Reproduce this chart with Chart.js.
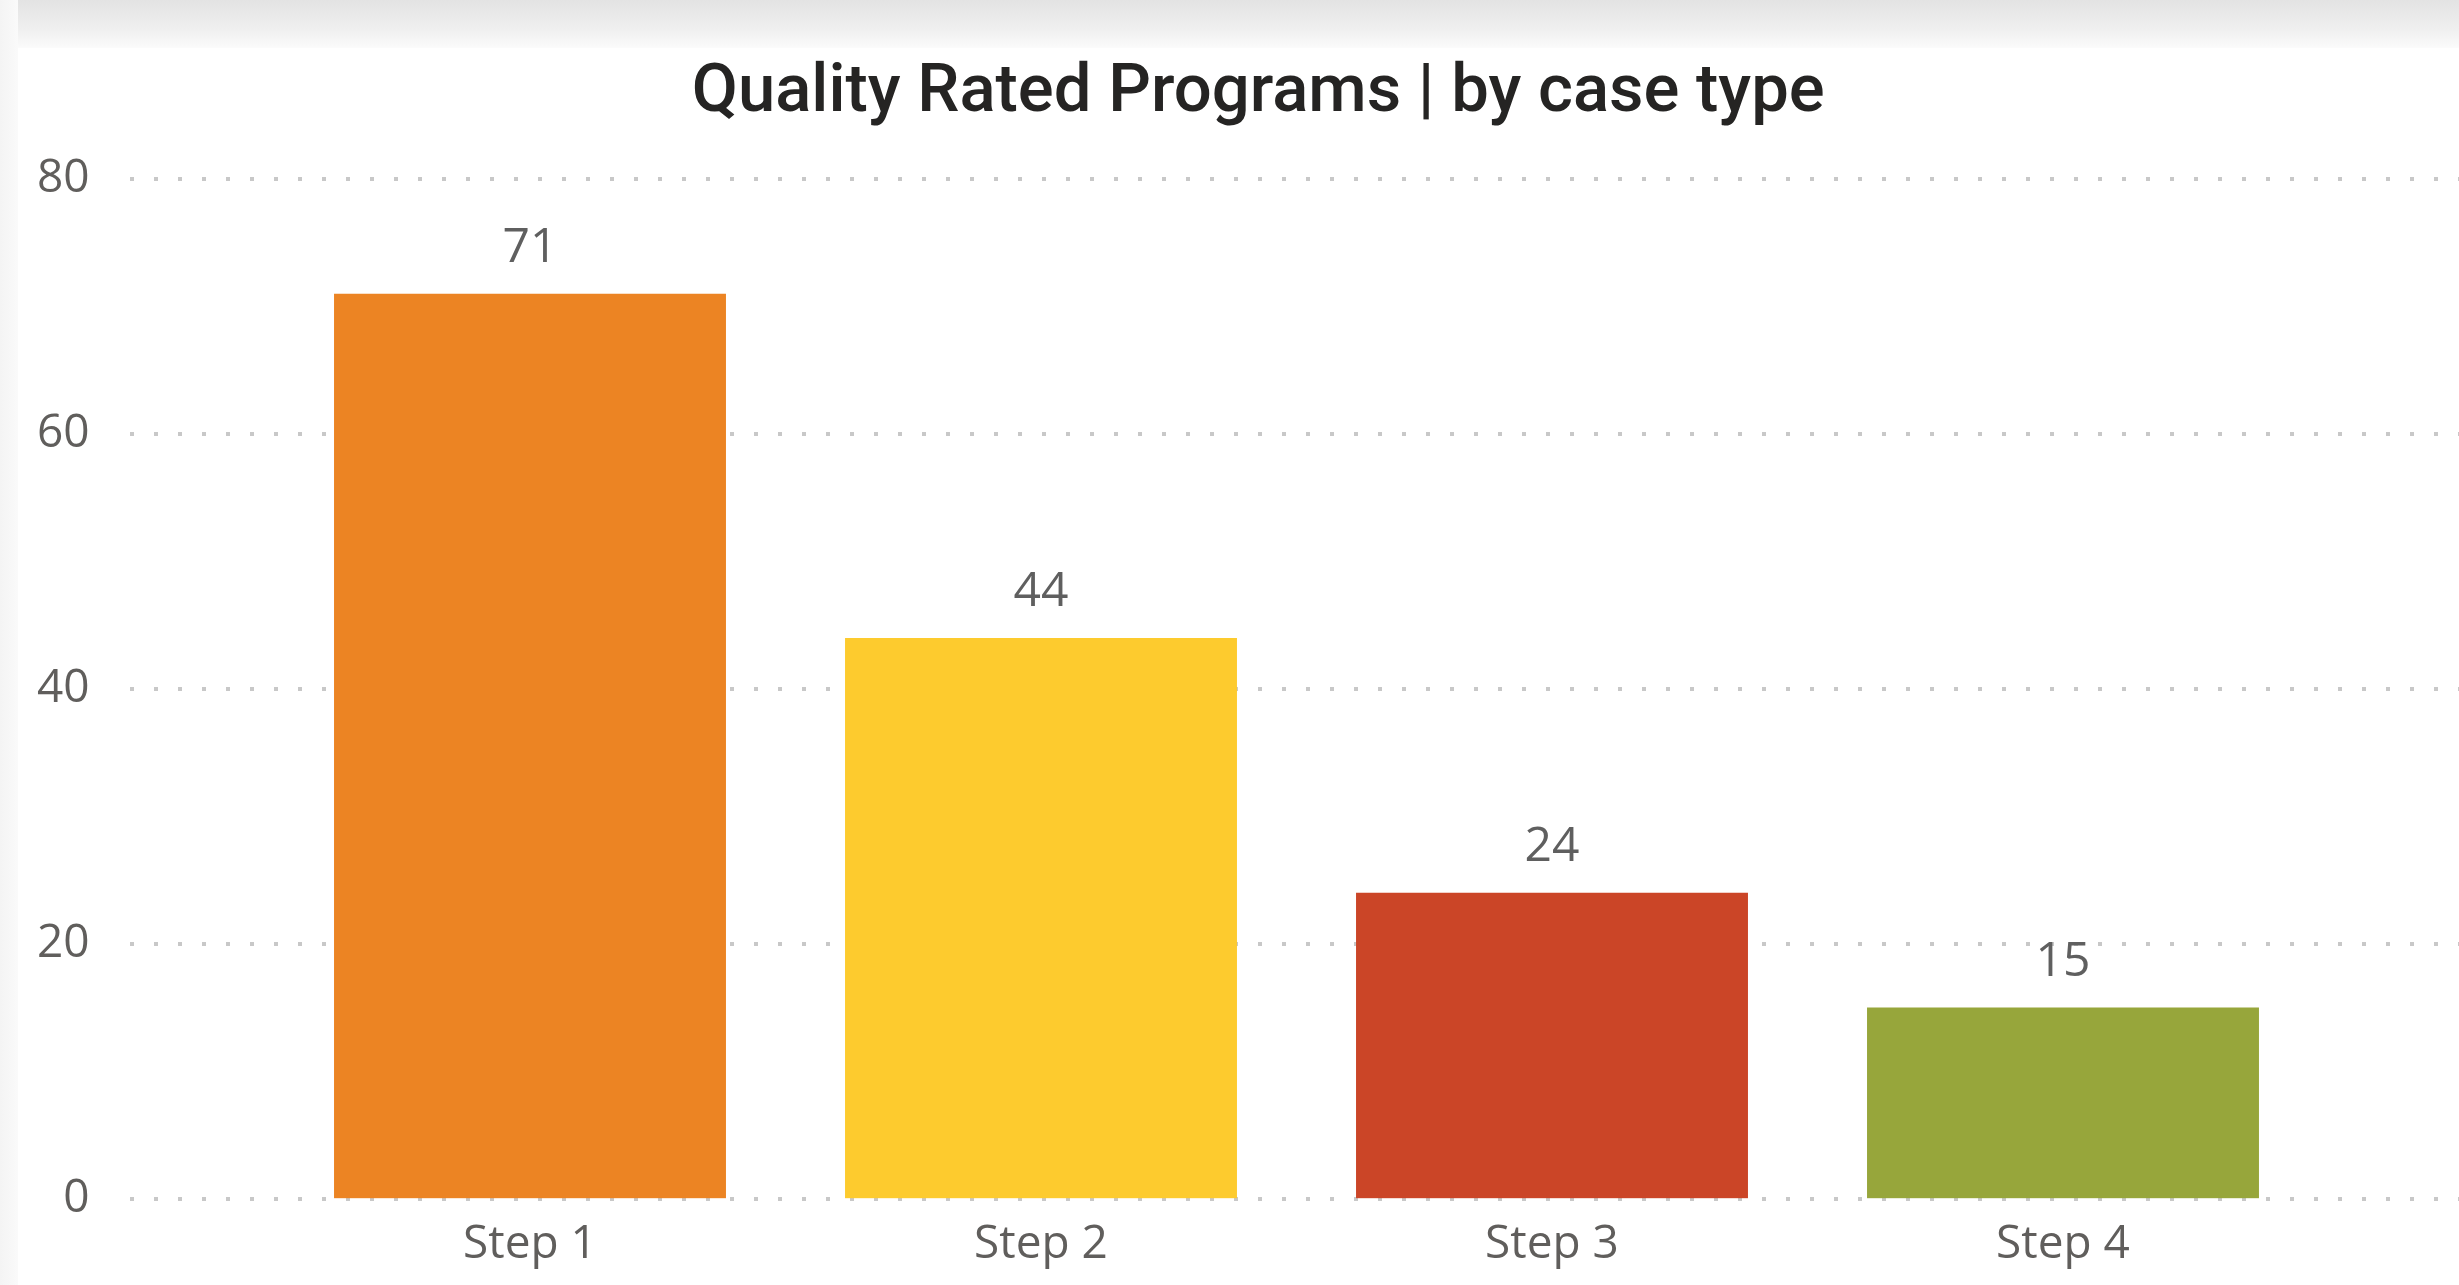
<!DOCTYPE html>
<html><head><meta charset="utf-8">
<script src="https://cdn.jsdelivr.net/npm/chart.js@4/dist/chart.umd.min.js"></script>
<style>
html,body{margin:0;padding:0;background:#fff;overflow:hidden}
#wrap{position:relative;width:2459px;height:1285px;background:#fff}
#shadow{position:absolute;left:0;top:0;width:2459px;height:48px;background:linear-gradient(#e3e3e3,#efefef 60%,#fbfbfb)}
#lstrip{position:absolute;left:0;top:0;width:18px;height:1285px;background:linear-gradient(90deg,#f4f4f4,#fafafa)}
canvas{position:absolute;left:0;top:0}
</style></head>
<body><div id="wrap"><div id="shadow"></div><div id="lstrip"></div><canvas id="c" width="2459" height="1285"></canvas></div>
<script>
const categories = ['Step 1', 'Step 2', 'Step 3', 'Step 4'];
const values = [71, 44, 24, 15];
const barColors = ['#EC8423', '#FDCB2E', '#CB4527', '#97A63B'];
const yTickValues = [0, 20, 40, 60, 80];
const titleText = 'Quality Rated Programs | by case type';

const dotGrid = {
  id: 'dotGrid',
  beforeDatasetsDraw(chart) {
    const y = chart.scales.y, ctx = chart.ctx;
    ctx.save();
    ctx.strokeStyle = '#c8c8c8';
    ctx.lineWidth = 4;
    ctx.setLineDash([4, 20]);
    y.ticks.forEach(t => {
      const py = Math.round(y.getPixelForValue(t.value));
      ctx.beginPath();
      ctx.moveTo(130, py);
      ctx.lineTo(chart.width, py);
      ctx.stroke();
    });
    ctx.restore();
  }
};

const valueLabels = {
  id: 'valueLabels',
  afterDatasetsDraw(chart) {
    const ctx = chart.ctx;
    const meta = chart.getDatasetMeta(0);
    ctx.save();
    ctx.fillStyle = '#5f5f5f';
    ctx.font = '48px "Open Sans"';
    ctx.textAlign = 'center';
    ctx.textBaseline = 'alphabetic';
    meta.data.forEach((bar, i) => {
      ctx.fillText(String(chart.data.datasets[0].data[i]), bar.x, bar.y - 32);
    });
    ctx.restore();
  }
};

const shiftTitle = {
  id: 'shiftTitle',
  afterLayout(chart) {
    if (chart.titleBlock) { chart.titleBlock.left += 99; chart.titleBlock.right += 99; }
  }
};

new Chart(document.getElementById('c'), {
  type: 'bar',
  data: {
    labels: categories,
    datasets: [{
      data: values,
      backgroundColor: barColors,
      borderWidth: 0,
      categoryPercentage: 1,
      barPercentage: 0.767
    }]
  },
  options: {
    responsive: false,
    animation: false,
    devicePixelRatio: 1,
    layout: { padding: { left: 0, right: 140.5, top: 0, bottom: 3 } },
    plugins: {
      legend: { display: false },
      tooltip: { enabled: false },
      title: {
        display: true,
        text: titleText,
        color: '#252423',
        font: { family: 'Roboto', size: 67, weight: '500', lineHeight: 1.2 },
        padding: { top: 54, bottom: 44.6 }
      }
    },
    scales: {
      x: {
        grid: { display: false },
        border: { display: false },
        ticks: { color: '#605e5c', font: { family: 'Open Sans', size: 46 }, padding: 10 }
      },
      y: {
        min: 0, max: 80,
        afterBuildTicks(s) { s.ticks = yTickValues.map(v => ({ value: v })); },
        afterFit(s) { s.width = 274.5; },
        grid: { display: true, drawOnChartArea: false, drawTicks: true, tickLength: 185, color: 'rgba(0,0,0,0)' },
        border: { display: false },
        ticks: { color: '#605e5c', font: { family: 'Open Sans', size: 46 }, padding: 0 }
      }
    }
  },
  plugins: [dotGrid, valueLabels, shiftTitle]
});
</script>
</body></html>
